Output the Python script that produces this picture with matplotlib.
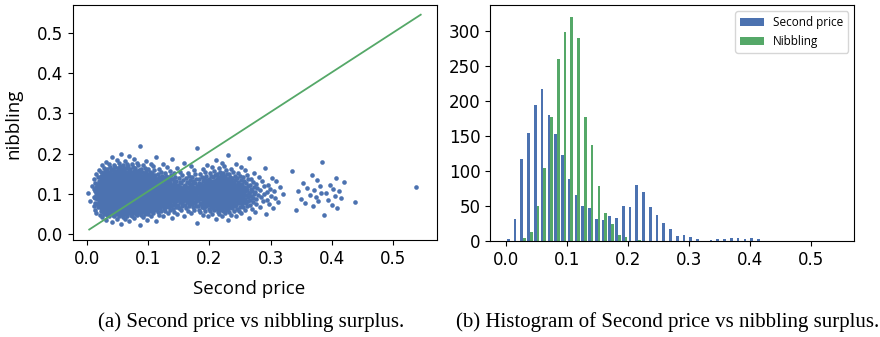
import numpy as np
from matplotlib import pyplot as plt

# histogram counts per bin (49 equal bins from 0.0 to 0.543)
bin_lo, bin_hi, n_bins = 0.0, 0.543, 49
second_price_counts = [3, 32, 117, 155, 195, 218, 180, 153, 123, 89, 66, 50, 48, 32, 30, 36, 33,
                       50, 49, 80, 70, 49, 38, 26, 18, 8, 9, 6, 3, 0, 2, 3, 3, 5, 5, 3, 5, 3,
                       0, 1, 0, 0, 0, 0, 0, 0, 0, 0, 1]
nibbling_counts = [0, 0, 5, 13, 50, 105, 178, 260, 299, 320, 290, 178, 138, 79, 40, 25, 9, 6,
                   0, 2, 0, 0, 0, 0, 0, 0, 0, 0, 0, 0, 0, 0, 0, 0, 0, 0, 0, 0,
                   0, 0, 0, 0, 0, 0, 0, 0, 0, 0, 0]

# reference line in the scatter
line_x = [0.004, 0.545]
line_y = [0.012, 0.545]

BLUE = '#4C72B0'
GREEN = '#55A868'
LABEL_FONT = 'Open Sans'
CAPTION_FONT = 'Liberation Serif'

edges = np.linspace(bin_lo, bin_hi, n_bins + 1)
width = edges[1] - edges[0]


def expand(counts):
    # one value per observation, spread evenly inside its bin
    vals = []
    for k, c in enumerate(counts):
        for j in range(c):
            vals.append(edges[k] + width * (j + 0.5) / c)
    return np.array(vals)


def van_der_corput(n, base=2):
    q, denom = 0.0, 1.0
    while n:
        n, rem = divmod(n, base)
        denom *= base
        q += rem / denom
    return q


second_price = expand(second_price_counts)
nibbling_sorted = np.sort(expand(nibbling_counts))
order = np.argsort(np.argsort([van_der_corput(i + 1) for i in range(len(second_price))]))
nibbling = nibbling_sorted[order]

plt.rcParams['font.family'] = 'DejaVu Sans'
fig = plt.figure(figsize=(8.8, 3.37), dpi=100)

# (a) scatter
ax1 = fig.add_axes([0.0826, 0.2878, 0.4136, 0.6973])
ax1.scatter(second_price, nibbling, s=11, color=BLUE, linewidths=0, zorder=2)
ax1.plot(line_x, line_y, color=GREEN, lw=1.3, zorder=3)
ax1.set_xlim(-0.023, 0.571)
ax1.set_ylim(-0.014, 0.569)
ax1.set_xticks(np.arange(0, 0.51, 0.1))
ax1.set_yticks(np.arange(0, 0.51, 0.1))
ax1.tick_params(labelsize=12)
ax1.set_xlabel('Second price', fontsize=13.5, family=LABEL_FONT)
ax1.set_ylabel('nibbling', fontsize=13.5, family=LABEL_FONT)
ax1.xaxis.set_label_coords((249 - 72.7) / 364, -(289 - 240) / 235, transform=ax1.transAxes)
ax1.yaxis.set_label_coords(-(72.7 - 13.3) / 364, (240 - 124) / 235, transform=ax1.transAxes)
ax1.xaxis.label.set_va('center')
ax1.yaxis.label.set_va('center')

# (b) side-by-side histogram
ax2 = fig.add_axes([0.5568, 0.284, 0.4136, 0.7003])
left = edges[:-1]
ax2.bar(left + 0.3 * width, second_price_counts, width=0.4 * width, color=BLUE, label='Second price')
ax2.bar(left + 0.7 * width, nibbling_counts, width=0.4 * width, color=GREEN, label='Nibbling')
ax2.set_xlim(-0.0267, 0.570)
ax2.set_ylim(0, 337)
ax2.set_xticks(np.arange(0, 0.51, 0.1))
ax2.set_yticks(np.arange(0, 301, 50))
ax2.tick_params(labelsize=12)
ax2.legend(loc='upper right', prop={'family': LABEL_FONT, 'size': 8.5})

fig.text(250.7 / 880, 1 - 321.7 / 337, '(a) Second price vs nibbling surplus.',
         ha='center', va='center', family=CAPTION_FONT, fontsize=15)
fig.text(667.7 / 880, 1 - 321.7 / 337, '(b) Histogram of Second price vs nibbling surplus.',
         ha='center', va='center', family=CAPTION_FONT, fontsize=15)

fig.savefig('out.png', dpi=100)
